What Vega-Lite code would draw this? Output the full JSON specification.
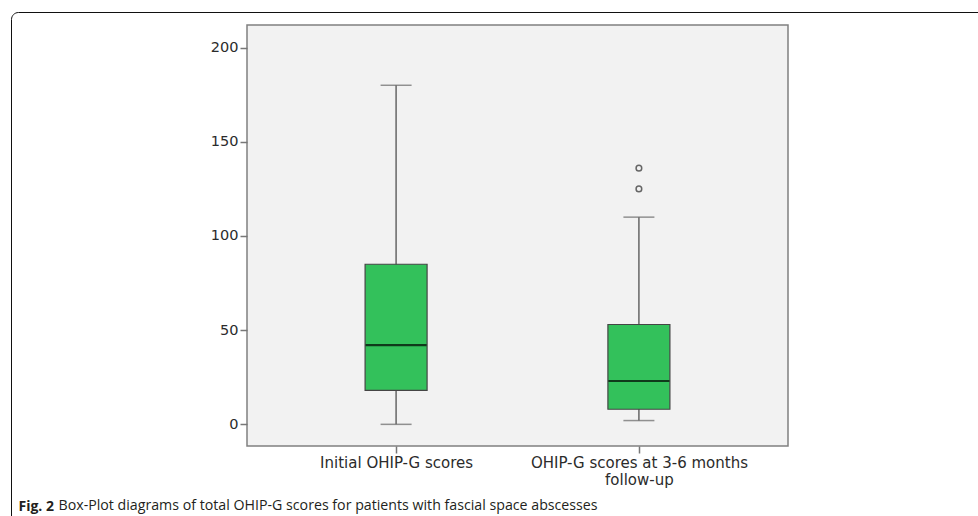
{
  "$schema": "https://vega.github.io/schema/vega-lite/v6.json",
  "width": 541,
  "height": 421,
  "autosize": {"type": "none"},
  "padding": {"left": 247, "top": 25, "right": 190, "bottom": 70},
  "background": "white",
  "config": {
    "view": {"fill": "#f2f2f2", "stroke": "#808080", "strokeWidth": 1.5},
    "font": "DejaVu Sans"
  },
  "datasets": {
    "boxes": [
      {"group": "Initial OHIP-G scores", "min": 0, "q1": 18, "median": 42, "q3": 85, "max": 180},
      {"group": "OHIP-G scores at 3-6 months|follow-up", "min": 2, "q1": 8, "median": 23, "q3": 53, "max": 110}
    ],
    "outliers": [
      {"group": "OHIP-G scores at 3-6 months|follow-up", "value": 125, "kind": "outlier"},
      {"group": "OHIP-G scores at 3-6 months|follow-up", "value": 136, "kind": "outlier"}
    ]
  },
  "encoding": {
    "x": {
      "field": "group",
      "type": "nominal",
      "sort": null,
      "scale": {"type": "point", "padding": 0.614, "domain": ["Initial OHIP-G scores", "OHIP-G scores at 3-6 months|follow-up"]},
      "axis": {
        "title": "Fig. 2",
        "titleFont": "Open Sans",
        "titleFontSize": 14,
        "titleFontWeight": "bold",
        "titleColor": "#231f20",
        "titleX": -229,
        "titleY": 64,
        "titleAlign": "left",
        "titleBaseline": "alphabetic",
        "titleAnchor": null,
        "labelExpr": "split(datum.label, '|')",
        "labelAngle": 0,
        "labelLimit": 0,
        "labelFontSize": 15,
        "labelColor": "#2b2b2b",
        "labelLineHeight": 17,
        "labelPadding": 2,
        "tickSize": 7,
        "tickColor": "#777777",
        "tickWidth": 1.5,
        "domain": false,
        "grid": false
      }
    }
  },
  "layer": [
    {
      "data": {"name": "boxes"},
      "mark": {"type": "rule", "color": "#666666", "strokeWidth": 1.5},
      "encoding": {
        "y": {
          "field": "min",
          "type": "quantitative",
          "scale": {"domain": [-11.5, 212], "nice": false, "zero": false},
          "axis": {
            "values": [0, 50, 100, 150, 200],
            "grid": false,
            "domain": false,
            "tickSize": 7,
            "tickColor": "#777777",
            "tickWidth": 1.5,
            "labelFontSize": 14.5,
            "labelColor": "#2b2b2b",
            "labelPadding": 2,
            "title": "Box-Plot diagrams of total OHIP-G scores for patients with fascial space abscesses",
            "titleFont": "Open Sans",
            "titleFontSize": 14.2,
            "titleFontWeight": "normal",
            "titleColor": "#231f20",
            "titleAngle": 0,
            "titleX": -189,
            "titleY": 484,
            "titleAlign": "left",
            "titleBaseline": "alphabetic",
            "titleAnchor": null
          }
        },
        "y2": {"field": "max"}
      }
    },
    {
      "data": {"name": "boxes"},
      "mark": {"type": "tick", "color": "#666666", "size": 31, "thickness": 1.5},
      "encoding": {"y": {"field": "min", "type": "quantitative"}}
    },
    {
      "data": {"name": "boxes"},
      "mark": {"type": "tick", "color": "#666666", "size": 31, "thickness": 1.5},
      "encoding": {"y": {"field": "max", "type": "quantitative"}}
    },
    {
      "data": {"name": "boxes"},
      "mark": {"type": "bar", "size": 62, "fill": "#33c15b", "stroke": "#454545", "strokeWidth": 1.2},
      "encoding": {
        "y": {"field": "q1", "type": "quantitative"},
        "y2": {"field": "q3"}
      }
    },
    {
      "data": {"name": "boxes"},
      "mark": {"type": "tick", "color": "#000000", "size": 61, "thickness": 2.2},
      "encoding": {"y": {"field": "median", "type": "quantitative"}}
    },
    {
      "data": {"name": "outliers"},
      "mark": {"type": "point", "filled": false, "stroke": "#666666", "strokeWidth": 1.5, "size": 32, "opacity": 1},
      "encoding": {
        "y": {"field": "value", "type": "quantitative"},
        "shape": {
          "field": "kind",
          "type": "nominal",
          "scale": {"range": ["circle"]},
          "legend": {
            "orient": "none",
            "legendX": -236,
            "legendY": -13,
            "title": null,
            "padding": 484,
            "strokeColor": "#111111",
            "cornerRadius": 7,
            "symbolOpacity": 0,
            "labelOpacity": 0,
            "labelExpr": "''",
            "encode": {"legend": {"update": {"strokeWidth": {"value": 2}, "fill": {"value": "transparent"}}}}
          }
        }
      }
    }
  ]
}
